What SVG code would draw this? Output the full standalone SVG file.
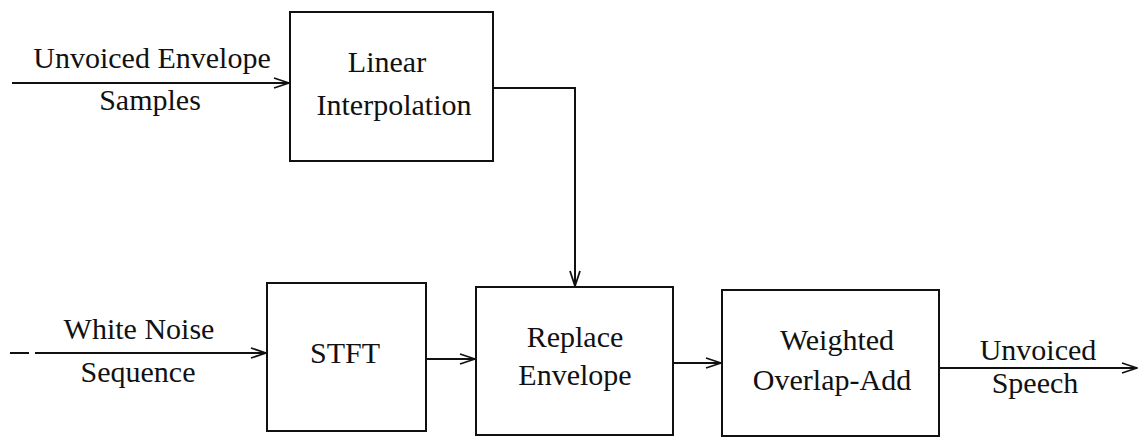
<svg xmlns="http://www.w3.org/2000/svg" width="1141" height="441" viewBox="0 0 1141 441">
<defs>
<style>
.box{fill:#fff;stroke:#111;stroke-width:2}
.line{fill:none;stroke:#111;stroke-width:2}
text{font-family:"Liberation Serif","Times New Roman",serif;font-size:30px;fill:#111;text-anchor:middle}
</style>
<marker id="arr" viewBox="0 0 17 12" refX="16" refY="6" markerWidth="17" markerHeight="12" markerUnits="userSpaceOnUse" orient="auto">
<path d="M1,1 L16,6 L1,11" fill="none" stroke="#111" stroke-width="1.8"/>
</marker>
</defs>
<rect width="1141" height="441" fill="#fff"/>
<g id="connectors">
<line class="line" x1="12" y1="83" x2="289" y2="83" marker-end="url(#arr)"/>
<polyline class="line" points="493,88 575,88 575,286" marker-end="url(#arr)"/>
<line class="line" x1="10" y1="353" x2="29" y2="353"/>
<line class="line" x1="35" y1="353" x2="266" y2="353" marker-end="url(#arr)"/>
<line class="line" x1="426" y1="359" x2="475" y2="359" marker-end="url(#arr)"/>
<line class="line" x1="673" y1="363" x2="721" y2="363" marker-end="url(#arr)"/>
<line class="line" x1="939" y1="368" x2="1137" y2="368" marker-end="url(#arr)"/>
</g>
<g id="label-unvoiced-envelope">
<text x="152" y="68">Unvoiced Envelope</text>
<text x="150" y="110">Samples</text>
</g>
<g id="label-white-noise">
<text x="139" y="339">White Noise</text>
<text x="138" y="382">Sequence</text>
</g>
<g id="label-unvoiced-speech">
<text x="1038" y="360">Unvoiced</text>
<text x="1035" y="393">Speech</text>
</g>
<g id="node-linear">
<rect class="box" x="290" y="12" width="203" height="149"/>
<text x="387" y="72">Linear</text>
<text x="394" y="115">Interpolation</text>
</g>
<g id="node-stft">
<rect class="box" x="267" y="283" width="159" height="148"/>
<text x="345" y="363">STFT</text>
</g>
<g id="node-replace">
<rect class="box" x="476" y="287" width="197" height="148"/>
<text x="575" y="347">Replace</text>
<text x="575" y="385">Envelope</text>
</g>
<g id="node-weighted">
<rect class="box" x="722" y="290" width="217" height="146"/>
<text x="837" y="350">Weighted</text>
<text x="832" y="390">Overlap-Add</text>
</g>
</svg>
